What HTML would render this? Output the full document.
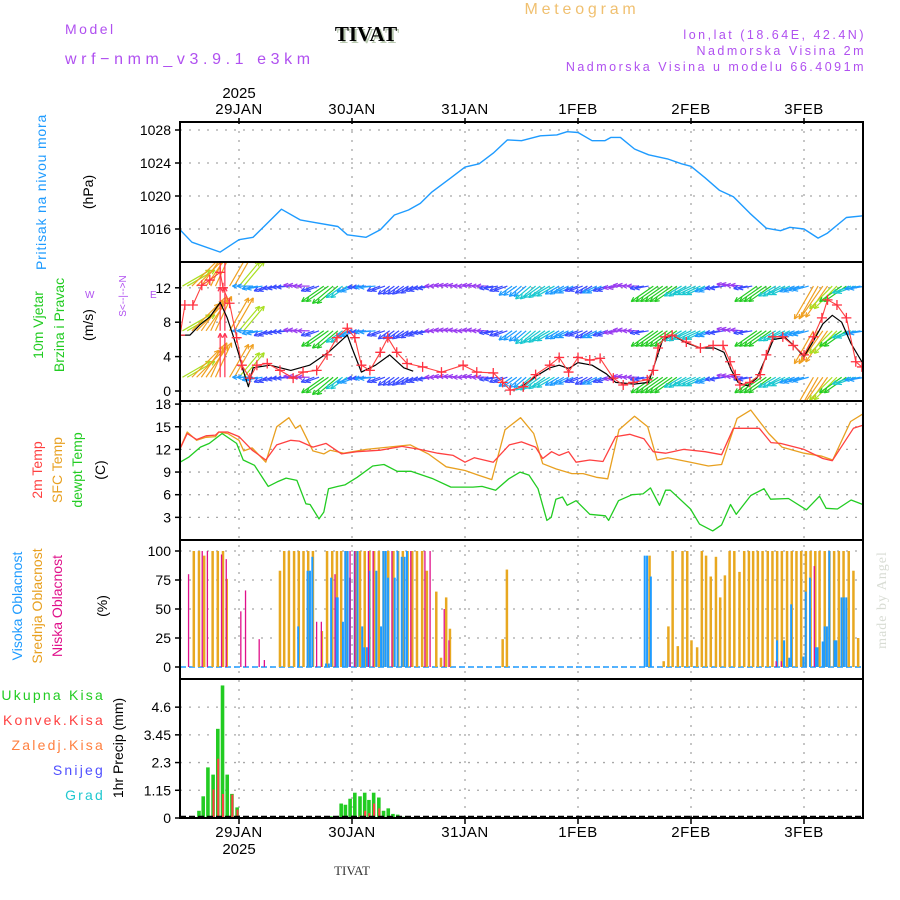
<!DOCTYPE html>
<html><head><meta charset="utf-8"><style>
html,body{margin:0;padding:0;background:#fff;}
svg{display:block;}
text{font-family:"Liberation Sans",sans-serif;}
</style></head><body>
<svg id="c" width="900" height="900" viewBox="0 0 900 900" xmlns="http://www.w3.org/2000/svg">
<g>
<text x="65" y="34" font-size="14" fill="#b050f0" letter-spacing="2.5">Model</text>
<text x="65" y="64" font-size="16" fill="#b050f0" letter-spacing="4.6">wrf−nmm_v3.9.1 e3km</text>
<text x="368" y="43" font-size="21" font-weight="bold" fill="#b8c8b0" text-anchor="middle" style="font-family:'Liberation Serif',serif">TIVAT</text>
<text x="366" y="41" font-size="21" font-weight="bold" fill="#000" text-anchor="middle" style="font-family:'Liberation Serif',serif">TIVAT</text>
<text x="582" y="14" font-size="16" fill="#f0c070" text-anchor="middle" letter-spacing="3.8">Meteogram</text>
<text x="866" y="39" font-size="12.5" fill="#b050f0" text-anchor="end" letter-spacing="2.5">lon,lat (18.64E, 42.4N)</text>
<text x="866" y="55" font-size="12.5" fill="#b050f0" text-anchor="end" letter-spacing="2.5">Nadmorska Visina 2m</text>
<text x="866" y="71" font-size="12.5" fill="#b050f0" text-anchor="end" letter-spacing="2.5">Nadmorska Visina u modelu 66.4091m</text>
<text x="352" y="875" font-size="13" fill="#333" text-anchor="middle" style="font-family:'Liberation Serif',serif">TIVAT</text>
<text transform="translate(886,600) rotate(-90)" font-size="14" fill="#d8dcd4" text-anchor="middle" style="font-family:'Liberation Serif',serif" letter-spacing="1">made by Angel</text>
</g>
<g>
<text transform="translate(46,192) rotate(-90)" font-size="14" fill="#1e9bff" text-anchor="middle" letter-spacing="0.8">Pritisak na nivou mora</text>
<text transform="translate(93,192) rotate(-90)" font-size="14" fill="#000" text-anchor="middle">(hPa)</text>
<text transform="translate(43,325) rotate(-90)" font-size="14" fill="#22cc22" text-anchor="middle">10m Vjetar</text>
<text transform="translate(64,325) rotate(-90)" font-size="14" fill="#22cc22" text-anchor="middle">Brzina i Pravac</text>
<text transform="translate(93,325) rotate(-90)" font-size="14" fill="#000" text-anchor="middle">(m/s)</text>
<text transform="translate(126,296) rotate(-90)" font-size="10" fill="#b050f0" text-anchor="middle">S&lt;--|--&gt;N</text>
<text x="85" y="298" font-size="10" fill="#b050f0">W</text>
<text x="150" y="298" font-size="10" fill="#b050f0">E</text>
<text transform="translate(42,470) rotate(-90)" font-size="14" fill="#ff4040" text-anchor="middle">2m Temp</text>
<text transform="translate(62,470) rotate(-90)" font-size="14" fill="#e8a020" text-anchor="middle">SFC Temp</text>
<text transform="translate(82,470) rotate(-90)" font-size="14" fill="#22cc22" text-anchor="middle">dewpt Temp</text>
<text transform="translate(105,470) rotate(-90)" font-size="14" fill="#000" text-anchor="middle">(C)</text>
<text transform="translate(22,606) rotate(-90)" font-size="14" fill="#1e9bff" text-anchor="middle">Visoka Oblacnost</text>
<text transform="translate(42,606) rotate(-90)" font-size="14" fill="#e8a020" text-anchor="middle">Srednja Oblacnost</text>
<text transform="translate(62,606) rotate(-90)" font-size="14" fill="#e0108a" text-anchor="middle">Niska Oblacnost</text>
<text transform="translate(107,606) rotate(-90)" font-size="14" fill="#000" text-anchor="middle">(%)</text>
<text x="105" y="700" font-size="14" fill="#22cc22" text-anchor="end" letter-spacing="2.2">Ukupna  Kisa</text>
<text x="105" y="725" font-size="14" fill="#ff4040" text-anchor="end" letter-spacing="2.2">Konvek.Kisa</text>
<text x="105" y="750" font-size="14" fill="#ff8040" text-anchor="end" letter-spacing="2.2">Zaledj.Kisa</text>
<text x="105" y="775" font-size="14" fill="#5050ff" text-anchor="end" letter-spacing="2.2">Snijeg</text>
<text x="105" y="800" font-size="14" fill="#20c8d0" text-anchor="end" letter-spacing="2.2">Grad</text>
<text transform="translate(123,748) rotate(-90)" font-size="14" fill="#000" text-anchor="middle">1hr Precip (mm)</text>
</g>
</svg>
<script>
// ---- data ----
var dayLabels = ["29JAN","30JAN","31JAN","1FEB","2FEB","3FEB"];
var dayHours = [0,24,48,72,96,120];
var presTicks = [1016,1020,1024,1028];
var windTicks = [0,4,8,12];
var tempTicks = [3,6,9,12,15,18];
var cloudTicks = [0,25,50,75,100];
var precipTicks = [0,1.15,2.3,3.45,4.6];
var precipTickLabels = ["0","1.15","2.3","3.45","4.6"];

var presH = [-12.5,-10,-4,0,3,6,9,13,16,21,23,27,30,33,36,38.5,41,45,48,51,54,57,60,64,67.5,69.7,72,75,77.7,79,81,84,87,91,94,96,99,102,105,108.5,112,115,117,120,123,125,129,132.5];
var presV = [1015.9,1014.4,1013.2,1014.7,1015.0,1016.7,1018.4,1017.1,1016.8,1016.3,1015.3,1015.0,1015.9,1017.7,1018.3,1019.1,1020.5,1022.2,1023.5,1023.9,1025.2,1026.8,1026.7,1027.3,1027.4,1027.8,1027.7,1026.7,1026.7,1027.1,1027.1,1025.7,1025.0,1024.5,1023.9,1023.6,1022.2,1020.7,1019.9,1017.9,1016.1,1015.8,1016.2,1016.0,1014.9,1015.5,1017.4,1017.6];

var speedH1 = [-12.5,-10.4,-8.3,-6.2,-4,-2.5,-1.3,0,1,2,3,6.6,11,15,19,23,24,26,29,32,35,37];
var speedV1 = [6.5,6.5,7.7,8.6,10.3,8.5,6.5,4.2,2.2,0.5,2.7,3.0,2.4,3.0,4.5,6.5,5.0,2.2,3.0,4.2,2.7,2.3];
var speedH2 = [60,63,66,68,70,72,75,78,80,84,87,88.5,90,92,95,98,101,103,104.5,106,108,110,112,113.5,116,118,120,122,124,126,128,130,132.5];
var speedV2 = [0.5,1.7,2.7,3.0,2.6,3.3,3.0,2.0,1.0,0.8,1.0,3.5,6.0,6.5,5.6,5.0,5.0,4.5,2.5,1.0,0.6,1.5,4.0,6.0,6.2,5.2,4.0,5.8,7.8,8.8,8.0,5.5,3.2];
var gustH = [-12.5,-11.5,-9.8,-7.9,-6.2,-4,-3.4,-2,-0.5,0.6,2.3,3.8,6,8.7,11.5,13.6,16.5,18.7,20.8,23,24.6,26,27.8,30,31.6,33.5,35.7,39,43,47.6,50.5,54,56,57.6,60.4,63,66,68,70,72,74.5,76.7,79.5,81.6,83.7,86.7,88,89,90.5,92,95,98,100.7,102.8,104.3,105.4,106.4,108.5,110.7,112,113.4,115.5,117.7,120,122,123.8,125,127,129,131,132.3];
var gustV = [6.5,10.0,10.0,12.3,12.9,13.8,12.0,10.2,6.2,3.0,1.5,3.0,3.2,2.4,1.5,2.2,2.4,4.2,6.2,7.3,6.2,3.0,2.4,4.5,6.2,4.5,3.2,2.8,2.2,3.0,2.2,2.1,1.0,0.1,0.5,1.9,3.0,3.9,2.2,3.9,3.6,3.8,1.5,0.7,1.0,1.3,2.4,5.0,6.3,6.5,5.7,5.0,5.3,5.3,3.4,1.9,0.7,1.0,1.9,4.2,6.3,6.3,5.3,4.2,6.3,8.5,10.6,10.0,8.5,3.4,2.8];

var arrowH = [-12,-10,-8,-6,-4,-2,0,2,4,6,8,10,12,14,16,18,20,22,24,26,28,30,32,34,36,38,40,42,44,46,48,50,52,54,56,58,60,62,64,66,68,70,72,74,76,78,80,82,84,86,88,90,92,94,96,98,100,102,104,106,108,110,112,114,116,118,120,122,124,126,128,130,132];
var arrowDir = [30,45,55,65,90,60,50,180,190,200,190,185,175,180,200,215,220,215,200,185,185,200,215,215,210,200,190,180,175,175,180,175,180,190,200,215,220,220,215,210,210,205,200,210,205,200,190,175,180,190,215,215,215,210,205,205,200,190,170,175,190,215,215,210,205,200,195,240,235,225,215,200,190];
var arrowCls = [5,6,6,6,7,6,5,2,2,1,1,1,0,0,1,4,4,3,2,1,2,1,1,1,1,1,1,0,0,0,0,0,0,1,1,2,2,3,3,3,2,2,1,1,2,1,0,0,0,1,4,4,4,3,3,3,2,1,0,0,1,4,4,3,3,2,2,6,6,5,4,3,2];
var arrowRows = [1.6,7,12.2];

var tRedH = [-12.5,-11,-9,-7,-5,-4.3,-2.4,0,2.8,5.7,8,11,12.8,15.7,18.5,21.8,25,30,34.6,38.4,42.2,45.5,48,50,54,57.4,60,63,64.5,66.4,68,70,71.6,74.5,77.3,80,83,86,88,90.6,94.4,99,102.5,105,110.5,113,115,120,124,126,130.5,132.5];
var tRedV = [12.1,14.1,13.3,13.8,13.9,14.3,14.3,13.7,11.9,10.6,12.6,13.2,13.1,12.3,12.8,11.4,11.7,11.9,12.4,12.0,11.5,11.2,10.3,10.9,10.3,12.6,13.0,12.3,10.8,11.7,11.2,11.7,10.3,10.6,10.4,13.7,14.0,13.4,11.7,11.5,12.0,11.7,11.3,14.8,14.8,12.9,12.8,12.0,10.8,10.5,14.8,15.2];
var tSfcH = [-12.5,-11,-9,-7,-5,-4.3,-2.4,0,1,2.8,5.7,8,10.6,12,13,15.7,18,19.4,22.3,27,31.7,36.4,40.2,44,48,50.8,53.7,56.5,59.8,62.6,64.5,67.4,70.7,73.1,75.9,78.3,80.7,84,86.8,88.8,91.1,95.9,99.7,102.5,105.8,108.7,112.5,115.3,120,123.8,126.1,129.9,132.5];
var tSfcV = [12.1,14.3,13.2,13.6,13.7,14.3,14.1,13.2,11.8,12.2,10.3,15.0,16.2,14.8,15.2,11.8,11.4,11.9,11.5,12.0,12.3,12.6,11.4,9.7,9.2,8.6,8.0,14.6,16.2,14.1,10.1,9.4,8.8,8.8,8.3,8.1,14.6,16.4,15.0,10.6,10.9,10.3,9.8,10.0,16.1,17.2,14.1,12.3,11.5,11.1,10.6,15.7,16.7];
var tDewH = [-12.5,-10.6,-8.2,-6.3,-3.6,-0.5,0.9,3.3,6.2,8.1,10,12.3,14.2,15.1,17,18,19,21,22.5,25.1,28.4,30.8,33.6,36.5,41.2,45,49.7,51.6,54.5,57.3,59.7,61.6,63.5,65.4,66.3,67.3,68.7,69.7,71.6,74.5,77.8,78.5,80.6,83.5,85.8,87.4,89.3,90.6,91.6,95.9,97.8,100.6,102.5,104.4,105.6,108.7,111.5,112.9,116.7,120.5,123.3,124.7,127.1,130,132.5];
var tDewV = [10.3,11.0,12.3,12.8,14.1,12.8,10.6,9.9,7.1,7.7,8.2,7.9,4.8,4.7,2.8,3.7,6.8,7.1,7.3,8.3,9.8,10.0,9.1,9.1,8.1,7.0,7.0,7.1,6.6,8.1,9.0,8.6,6.8,2.6,3.0,5.4,5.7,4.6,5.2,3.4,3.2,2.6,5.2,6.0,6.1,6.9,4.6,6.6,6.6,4.1,2.1,1.2,2.0,4.7,3.4,5.9,6.8,5.4,5.5,4.0,5.8,4.2,4.1,5.3,4.7];

var midH = [-9.6,-8.5,-7.4,-5.6,-4.5,-3.4,-2.6,8.7,9.6,10.6,11.7,12.7,13.7,14.7,15.7,17.6,18.7,19.8,20.8,21.7,22.7,24.7,25.7,26.7,27.7,28.7,29.7,30.7,31.7,32.8,33.8,34.8,35.8,36.8,37.8,38.9,39.9,41.9,42.9,44.0,44.8,56.0,56.9,87.2,90.2,91.2,92.1,93.2,94.2,95.2,96.1,97.3,98.3,99.2,100.2,101.3,102.2,103.2,104.2,105.2,106.3,107.3,108.3,109.2,110.2,111.2,112.3,113.3,114.3,115.3,116.4,117.4,118.4,119.4,120.4,121.4,122.4,123.3,124.4,125.4,126.4,127.4,128.4,129.5,130.5,131.5];
var midV = [100,100,96,100,100,100,76,83,100,100,100,100,100,100,100,31,100,100,100,100,100,100,100,100,100,100,100,100,100,100,100,100,100,100,100,100,83,65,8,60,33,24,84,96,5,35,100,18,100,100,23,17,100,96,78,95,60,79,100,100,82,100,100,100,100,100,100,100,100,100,100,100,100,100,100,100,100,100,100,100,100,100,100,100,83,25];
var highH = [12.4,14.4,14.9,15.4,18.3,18.9,19.4,20.5,20.8,21.9,22.4,22.9,23.4,24.4,25.0,26.0,26.4,27.0,27.5,29.0,30.0,30.5,31.0,31.5,32.9,33.5,34.4,35.0,35.5,86.0,86.5,87.3,114.1,115.6,116.7,117.1,119.7,120.2,121.1,122.3,122.7,123.8,124.2,124.7,125.2,126.3,126.7,127.8,128.3,128.8];
var highV = [35,83,83,95,3,3,77,60,60,39,100,100,77,100,100,35,17,17,83,83,35,100,100,77,77,100,95,95,100,96,96,78,23,23,8,54,9,65,77,17,17,22,35,35,100,23,23,60,60,60];
var lowH = [-10.5,-7.6,-6.5,-3.5,-2.5,0.6,1.6,4.5,5.6,16.7,17.7,20.6,23.8,24.8,27.7,28.7,32.7,36.7,39.7,40.8,43.8,44.8,114.3,115.4,122.4];
var lowV = [80,100,100,97,93,48,66,24,6,39,39,80,100,100,100,100,100,100,100,100,50,23,5,5,87];

var rainH = [-9.6,-8.5,-7.6,-6.6,-5.5,-4.5,-3.5,-2.5,-1.5,-0.4,19.5,20.5,21.7,22.6,23.6,24.6,25.7,26.7,27.6,28.6,29.7,30.7,31.7,32.7,33.7,34.7,35.6];
var rainV = [0.04,0.3,0.9,2.1,1.8,3.7,5.5,1.8,1.0,0.44,0.07,0.07,0.6,0.55,0.8,1.05,0.9,1.05,0.75,1.05,0.85,0.3,0.4,0.17,0.14,0.05,0.05];
var convH = [-5.5,-4.5,-3.5,-1.5,-0.4,25.7,26.7,27.6,28.6,29.7];
var convV = [1.18,2.46,1.0,0.97,0.35,0.1,0.3,0.2,0.6,0.4];

// ---- scales ----
var X0 = 180, X1 = 863;
function X(h){ return 239 + h*113/24; }
function YP(p){ return 130 + (1028-p)*8.25; }
function YW(v){ return 391 - v*8.6; }
function YT(t){ return 540 - t*7.55; }
function YC(c){ return 667 - c*1.16; }
function YR(m){ return 818 - m*24.1; }
var panels = [[122,262,'pressure-panel'],[262,401,'wind-panel'],[401,540,'temperature-panel'],[540,679,'cloud-panel'],[679,818,'precip-panel']];

var NS = 'http://www.w3.org/2000/svg';
var svg = document.getElementById('c');
function mk(tag, attrs, parent){
  var e = document.createElementNS(NS, tag);
  for (var k in attrs) e.setAttribute(k, attrs[k]);
  (parent||svg).appendChild(e);
  return e;
}
function clipG(name, y0, y1){
  var id = 'clip' + name;
  var cp = mk('clipPath', {id:id});
  mk('rect', {x:X0, y:y0, width:X1-X0, height:y1-y0}, cp);
  var g = mk('g', {'clip-path':'url(#'+id+')'});
  
  
  return g;
}
function gridH(y, parent){
  var l = mk('line', {x1:X0, x2:X1, y1:y, y2:y, stroke:'#a8a8a8', 'stroke-width':1.3, 'stroke-dasharray':'2,7'}, parent);
  
  
}
function tickLabel(y, txt){
  var t = mk('text', {x:171, y:y+5, 'font-size':14, 'text-anchor':'end', fill:'#000'});
  t.textContent = txt;
  
  
  mk('line', {x1:X0-5, x2:X0, y1:y, y2:y, stroke:'#000', 'stroke-width':1.5});
}
function poly(hs, vs, yf, color, w, parent, name){
  var pts = [];
  for (var i=0;i<hs.length;i++) pts.push(X(hs[i]).toFixed(1)+','+yf(vs[i]).toFixed(1));
  var p = mk('polyline', {points:pts.join(' '), fill:'none', stroke:color, 'stroke-width':w, 'stroke-linejoin':'round'}, parent);
  
  
  return p;
}

var gv = mk('g', {});


for (var d=0; d<dayHours.length; d++){
  var gx = X(dayHours[d]);
  var vl = mk('line', {x1:gx, x2:gx, y1:122, y2:818, stroke:'#a8a8a8', 'stroke-width':1.3, 'stroke-dasharray':'2,7'}, gv);
  
  
  mk('line', {x1:gx, x2:gx, y1:118, y2:124, stroke:'#000', 'stroke-width':1.5});
  mk('line', {x1:gx, x2:gx, y1:816, y2:824, stroke:'#000', 'stroke-width':1.5});
  var tt = mk('text', {x:gx, y:114, 'font-size':15, 'text-anchor':'middle', fill:'#000', 'letter-spacing':'0.5'});
  tt.textContent = dayLabels[d];
  
  
  var tb = mk('text', {x:gx, y:837, 'font-size':15, 'text-anchor':'middle', fill:'#000', 'letter-spacing':'0.5'});
  tb.textContent = dayLabels[d];
  
  
}
var y1 = mk('text', {x:X(0), y:98, 'font-size':15, 'text-anchor':'middle', fill:'#000'}); y1.textContent='2025';


var y2 = mk('text', {x:X(0), y:854, 'font-size':15, 'text-anchor':'middle', fill:'#000'}); y2.textContent='2025';



presTicks.forEach(function(v){ gridH(YP(v)); tickLabel(YP(v), String(v)); });
windTicks.forEach(function(v){ gridH(YW(v)); tickLabel(YW(v), String(v)); });
tempTicks.forEach(function(v){ gridH(YT(v)); tickLabel(YT(v), String(v)); });
cloudTicks.forEach(function(v){ gridH(YC(v)); tickLabel(YC(v), String(v)); });
precipTicks.forEach(function(v,i){ if(v>0) gridH(YR(v)); tickLabel(YR(v), precipTickLabels[i]); });

var gp = clipG('pressure-series', 122, 262);
poly(presH, presV, YP, '#1e9bff', 1.4, gp, 'pressure-line');

var colors = ['#9a3cf0','#3a4cff','#1e9bff','#19c8d0','#22cc22','#a8e020','#f0a020','#ff3050'];
var lens = [12,14,16,20,27,32,38,44];
var gw = clipG('wind-series', 262, 401);
for (var r=0; r<arrowRows.length; r++){
  for (var i=0;i<arrowH.length;i++){
    var x0 = X(arrowH[i]), y0 = YW(arrowRows[r]);
    var a = arrowDir[i]*Math.PI/180, L = lens[arrowCls[i]];
    var col = colors[arrowCls[i]];
    for (var k=0;k<2;k++){
      var xs = x0 + k*4.7;
      var x1 = xs + Math.cos(a)*L, yy1 = y0 - Math.sin(a)*L;
      var ar = mk('g', {stroke:col, 'stroke-width':1.2, fill:'none'}, gw);
      
      
      mk('line', {x1:xs, y1:y0, x2:x1, y2:yy1}, ar);
      var hl = 5;
      for (var s=-1;s<=1;s+=2){
        var b = a + Math.PI + s*0.45;
        mk('line', {x1:x1, y1:yy1, x2:x1+Math.cos(b)*hl, y2:yy1-Math.sin(b)*hl}, ar);
      }
    }
  }
}
poly(speedH1, speedV1, YW, '#000', 1.2, gw, 'wind-speed-line');
poly(speedH2, speedV2, YW, '#000', 1.2, gw, 'wind-speed-line-2');
poly(gustH, gustV, YW, '#ff4040', 1.1, gw, 'wind-gust-line');
for (var i=0;i<gustH.length;i++){
  var gx2 = X(gustH[i]), gy = YW(gustV[i]);
  var m = mk('path', {d:'M'+(gx2-5)+','+gy+'h10M'+gx2+','+(gy-5)+'v10', stroke:'#ff3040', 'stroke-width':1.3, fill:'none'}, gw);
  
  
}

var gt = clipG('temperature-series', 401, 540);
poly(tSfcH, tSfcV, YT, '#e8a020', 1.3, gt, 'sfc-temp-line');
poly(tRedH, tRedV, YT, '#ff4040', 1.3, gt, 'temp-2m-line');
poly(tDewH, tDewV, YT, '#22cc22', 1.3, gt, 'dewpoint-line');

var gc = clipG('cloud-series', 540, 679);
var bl = mk('line', {x1:X0, x2:X1, y1:YC(0), y2:YC(0), stroke:'#1e9bff', 'stroke-width':1.6, 'stroke-dasharray':'6,3'}, gc);


function bars(hs, vs, color, w, off, name){
  for (var i=0;i<hs.length;i++){
    var b = mk('rect', {x:X(hs[i])-w/2+off, y:YC(vs[i]), width:w, height:YC(0)-YC(vs[i]), fill:color}, gc);
    
    
  }
}
bars(midH, midV, '#e8a820', 2.5, 0, 'mid-cloud-bar');
bars(highH, highV, '#1e9bff', 2, 0.8, 'high-cloud-bar');
bars(lowH, lowV, '#e0108a', 1.3, -1, 'low-cloud-bar');

var gr = clipG('precip-series', 679, 818);
for (var i=0;i<rainH.length;i++){
  var rb = mk('rect', {x:X(rainH[i])-1.8, y:YR(rainV[i]), width:3.6, height:YR(0)-YR(rainV[i]), fill:'#22cc22'}, gr);
  
  
}
for (var i=0;i<convH.length;i++){
  var cb = mk('rect', {x:X(convH[i])-0.6, y:YR(convV[i]), width:2, height:YR(0)-YR(convV[i]), fill:'#ff4040'}, gr);
  
  
}
var zl = mk('line', {x1:X0, x2:X1, y1:817, y2:817, stroke:'#000', 'stroke-width':2.5, 'stroke-dasharray':'6,3'});



panels.forEach(function(p){
  var f = mk('rect', {x:X0, y:p[0], width:X1-X0, height:p[1]-p[0], fill:'none', stroke:'#000', 'stroke-width':2});
  
  
});
</script>
</body></html>
